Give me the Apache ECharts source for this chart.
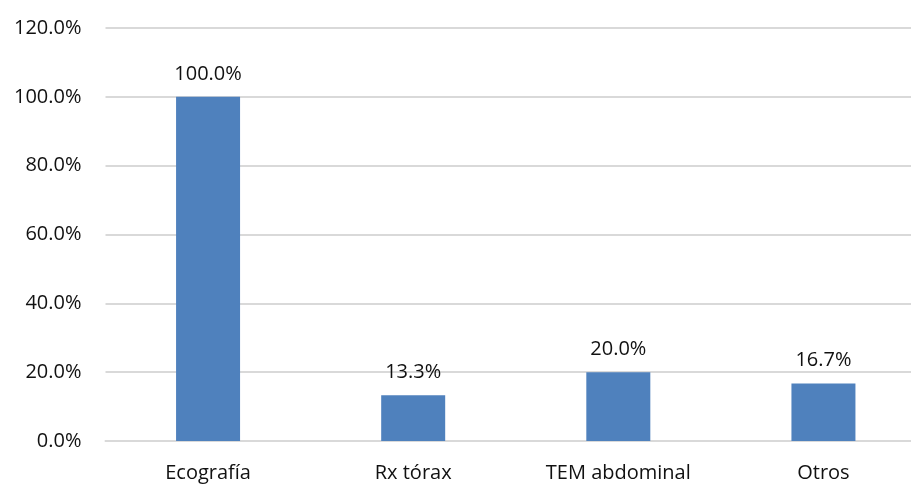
<!DOCTYPE html>
<html><head><meta charset="utf-8">
<script src="https://cdn.jsdelivr.net/npm/echarts@6/dist/echarts.min.js"></script>
<style>html,body{margin:0;padding:0;background:#fff;overflow:hidden;width:911px;height:484px}#c{width:926px;height:484px}</style>
</head><body><div id="c"></div>
<script>
const categories = ["Ecografía", "Rx tórax", "TEM abdominal", "Otros"];
const values = [100.0, 13.3, 20.0, 16.7];
const yTicks = [0, 20, 40, 60, 80, 100, 120];

const chart = echarts.init(document.getElementById('c'));
const font = "'Open Sans', 'Liberation Sans', sans-serif";
chart.setOption({
  animation: false,
  grid: {left: 105.5, right: 0, top: 28, bottom: 43, containLabel: false},
  xAxis: {
    type: 'category', data: categories,
    axisLine: {show: true, lineStyle: {color: '#d9d9d9', width: 2}},
    axisTick: {show: false},
    axisLabel: {color: '#111', fontSize: 20, fontFamily: font, margin: 22}
  },
  yAxis: {
    type: 'value', min: 0, max: yTicks[yTicks.length-1], interval: 20,
    axisLine: {show: false}, axisTick: {show: false},
    splitLine: {lineStyle: {color: '#d9d9d9', width: 2}},
    axisLabel: {color: '#111', fontSize: 20, fontFamily: font, margin: 24,
      formatter: v => v.toFixed(1) + '%'}
  },
  series: [{
    type: 'bar', data: values, barWidth: 64,
    itemStyle: {color: '#4f81bd'},
    label: {show: true, position: 'top', distance: 13, color: '#111', fontSize: 20, fontFamily: font,
      formatter: p => p.value.toFixed(1) + '%'}
  }]
});
</script></body></html>
